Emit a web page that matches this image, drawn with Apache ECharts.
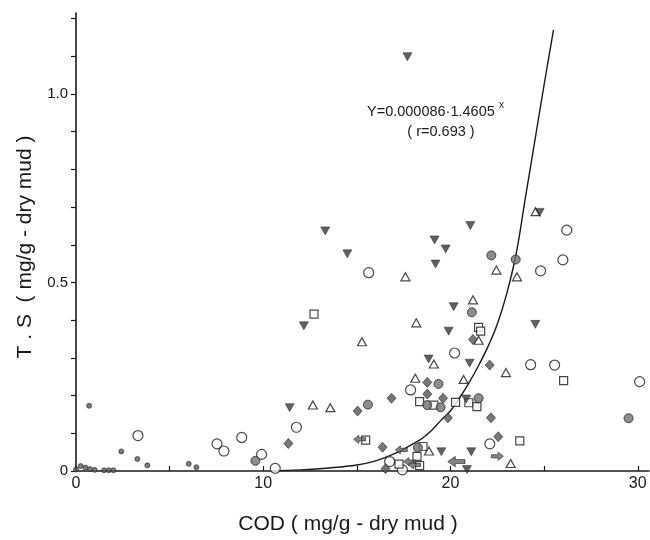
<!DOCTYPE html>
<html>
<head>
<meta charset="utf-8">
<script src="https://cdn.jsdelivr.net/npm/echarts@6/dist/echarts.min.js"></script>
<style>
html,body{margin:0;padding:0;background:#fff;}
#chart{width:650px;height:540px;}
</style>
</head>
<body>
<div id="chart"></div>
<script>
// ---- axis ticks and labels ----
const xTickValues = [0, 5, 10, 15, 20, 25, 30];
const xLabelValues = [0, 10, 20, 30];
const yTickValues = [0, 0.1, 0.2, 0.3, 0.4, 0.5, 0.6, 0.7, 0.8, 0.9, 1.0, 1.1, 1.2];
const yLabelValues = [0, 0.5, 1.0];
const xTitle = 'COD ( mg/g - dry mud )';
const yTitle = 'T . S  ( mg/g - dry mud )';
const equationText = 'Y=0.000086·1.4605';
const equationSup = 'x';
const rText = '( r=0.693 )';

// ---- data: [COD, T.S] ----
const invTriangles = [
  [17.7, 1.099], [13.31, 0.637], [14.49, 0.576], [19.15, 0.613], [19.74, 0.589],
  [21.06, 0.651], [19.2, 0.549], [24.76, 0.686], [12.17, 0.385], [20.17, 0.436],
  [19.9, 0.371], [24.53, 0.389], [18.83, 0.297], [21.02, 0.286], [11.41, 0.168],
  [20.84, 0.191], [19.51, 0.051], [21.11, 0.051], [20.88, 0.004]
];
const openTriangles = [
  [24.54, 0.688], [17.59, 0.515], [22.45, 0.533], [23.55, 0.515], [21.2, 0.454],
  [18.17, 0.393], [15.27, 0.343], [21.5, 0.347], [19.11, 0.284], [22.96, 0.261],
  [18.12, 0.246], [20.7, 0.243], [12.65, 0.175], [13.58, 0.168], [18.85, 0.053],
  [23.21, 0.020]
];
const filledCircles = [
  [22.18, 0.572], [23.48, 0.561], [21.14, 0.421], [19.36, 0.231], [15.59, 0.176],
  [18.76, 0.175], [19.47, 0.169], [21.5, 0.193], [29.51, 0.140], [9.58, 0.027],
  [18.26, 0.062]
];
const smallDots = [
  [0.7, 0.173], [2.42, 0.052], [3.28, 0.032], [3.81, 0.015], [6.02, 0.019],
  [6.43, 0.010], [0.0, 0.004], [0.25, 0.013], [0.5, 0.009], [0.75, 0.005],
  [1.0, 0.003], [1.5, 0.002], [1.75, 0.002], [2.0, 0.002]
];
const openCircles = [
  [26.21, 0.639], [26.0, 0.560], [24.81, 0.531], [15.63, 0.526], [20.22, 0.313],
  [24.28, 0.282], [25.56, 0.281], [30.1, 0.237], [17.87, 0.215], [11.77, 0.116],
  [3.31, 0.094], [8.85, 0.089], [7.53, 0.072], [7.9, 0.053], [9.91, 0.044],
  [10.64, 0.007], [22.1, 0.072], [16.75, 0.025], [17.43, 0.003]
];
const openSquares = [
  [12.71, 0.416], [21.5, 0.381], [21.61, 0.371], [26.04, 0.240], [18.35, 0.184],
  [19.11, 0.175], [20.27, 0.182], [20.98, 0.181], [21.41, 0.171], [23.7, 0.080],
  [15.47, 0.082], [18.53, 0.065], [18.21, 0.039], [17.25, 0.018], [18.35, 0.014]
];
const diamonds = [
  [21.2, 0.349], [22.09, 0.281], [18.76, 0.235], [18.76, 0.204], [19.6, 0.193],
  [16.85, 0.193], [15.04, 0.159], [19.86, 0.141], [22.16, 0.141], [11.34, 0.073],
  [22.55, 0.091], [16.37, 0.063], [16.53, 0.006]
];
const leftArrows = [
  [15.15, 0.084], [17.37, 0.056], [17.82, 0.025], [18.08, 0.016]
];
const bigArrows = [
  [20.31, 0.025]
];
const rightArrows = [
  [22.5, 0.039]
];
// fitted curve
const fitCurve = [
  [10.5, 0.0], [12, 0.003], [13.5, 0.008], [15, 0.016], [16, 0.027], [17, 0.046],
  [17.5, 0.058], [18, 0.072], [18.5, 0.087], [19, 0.108], [19.5, 0.135], [20, 0.16],
  [20.5, 0.195], [21, 0.235], [21.5, 0.28], [22, 0.33], [22.5, 0.39], [23, 0.47],
  [23.5, 0.575], [24, 0.725], [24.5, 0.875], [25, 1.025], [25.5, 1.17]
];

const ink = '#1a1a1a';
const arrowPath = 'path://M0,5 L6,0 L6,3 L14,3 L14,7 L6,7 L6,10 Z';

const chart = echarts.init(document.getElementById('chart'), null, {renderer: 'canvas'});
chart.setOption({
  backgroundColor: '#ffffff',
  animation: false,
  grid: {left: 76, right: 1, top: 13, bottom: 69, containLabel: false},
  xAxis: {
    type: 'value', min: 0, max: 30.6,
    axisLine: {show: true, onZero: false, lineStyle: {color: ink, width: 1.6}},
    axisTick: {show: true, inside: true, length: 5, customValues: xTickValues, lineStyle: {color: ink, width: 1.2}},
    axisLabel: {customValues: xLabelValues, color: ink, fontSize: 16, fontFamily: 'Liberation Sans', margin: 5},
    splitLine: {show: false}
  },
  yAxis: {
    type: 'value', min: 0, max: 1.215,
    axisLine: {show: true, onZero: false, lineStyle: {color: ink, width: 1.6}},
    axisTick: {show: true, inside: false, length: 5, customValues: yTickValues, lineStyle: {color: ink, width: 1.2}},
    axisLabel: {customValues: yLabelValues, color: ink, fontSize: 15, fontFamily: 'Liberation Sans', margin: 8,
      formatter: v => (Math.abs(v) < 1e-9 ? '0' : v.toFixed(1))},
    splitLine: {show: false}
  },
  graphic: [
    {type: 'text', x: 25, y: 247, rotation: Math.PI / 2,
      style: {text: yTitle, fill: ink, font: '21px "Liberation Sans"', align: 'center', verticalAlign: 'middle'}},
    {type: 'text', x: 348, y: 524,
      style: {text: xTitle, fill: ink, font: '21px "Liberation Sans"', align: 'center', verticalAlign: 'middle'}},
    {type: 'text', x: 367, y: 112,
      style: {text: equationText, fill: ink, font: '14.5px "Liberation Sans"', align: 'left', verticalAlign: 'middle'}},
    {type: 'text', x: 499, y: 105,
      style: {text: equationSup, fill: ink, font: '10px "Liberation Sans"', align: 'left', verticalAlign: 'middle'}},
    {type: 'text', x: 441, y: 132,
      style: {text: rText, fill: ink, font: '14.5px "Liberation Sans"', align: 'center', verticalAlign: 'middle'}}
  ],
  series: [
    {type: 'line', data: fitCurve, smooth: 0.4, showSymbol: false, clip: true,
      lineStyle: {color: ink, width: 1.4}, z: 1},
    {type: 'scatter', data: openCircles, symbol: 'circle', symbolSize: 10,
      itemStyle: {color: '#fff', borderColor: ink, borderWidth: 1.2}, z: 2},
    {type: 'scatter', data: openSquares, symbol: 'rect', symbolSize: 8,
      itemStyle: {color: '#fff', borderColor: ink, borderWidth: 1.2}, z: 2},
    {type: 'scatter', data: openTriangles, symbol: 'triangle', symbolSize: [9, 8],
      itemStyle: {color: '#fff', borderColor: ink, borderWidth: 1.2}, z: 2},
    {type: 'scatter', data: invTriangles, symbol: 'triangle', symbolSize: [9, 8], symbolRotate: 180,
      itemStyle: {color: '#3a3a3a', borderColor: '#222', borderWidth: 0.6}, z: 3},
    {type: 'scatter', data: filledCircles, symbol: 'circle', symbolSize: 9,
      itemStyle: {color: '#707070', borderColor: '#2a2a2a', borderWidth: 1}, z: 3},
    {type: 'scatter', data: smallDots, symbol: 'circle', symbolSize: 5,
      itemStyle: {color: '#5a5a5a', borderColor: '#2a2a2a', borderWidth: 0.8}, z: 3},
    {type: 'scatter', data: diamonds, symbol: 'diamond', symbolSize: [9, 10],
      itemStyle: {color: '#555', borderColor: '#2a2a2a', borderWidth: 0.8}, z: 3},
    {type: 'scatter', data: leftArrows, symbol: arrowPath, symbolSize: [12, 8],
      itemStyle: {color: '#666', borderColor: '#2a2a2a', borderWidth: 0.8}, z: 3},
    {type: 'scatter', data: bigArrows, symbol: arrowPath, symbolSize: [17, 10],
      itemStyle: {color: '#666', borderColor: '#2a2a2a', borderWidth: 0.8}, z: 3},
    {type: 'scatter', data: rightArrows, symbol: arrowPath, symbolSize: [12, 8], symbolRotate: 180,
      itemStyle: {color: '#666', borderColor: '#2a2a2a', borderWidth: 0.8}, z: 3}
  ]
});
</script>
</body>
</html>
